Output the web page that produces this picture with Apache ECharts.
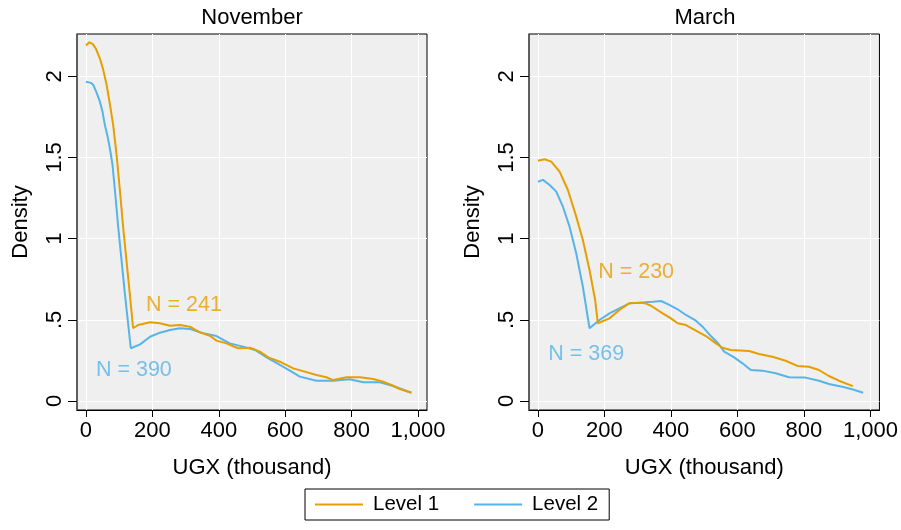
<!DOCTYPE html>
<html>
<head>
<meta charset="utf-8">
<script src="https://cdn.jsdelivr.net/npm/echarts@6/dist/echarts.min.js"></script>
<style>
html,body{margin:0;padding:0;background:#fff;}
#chart{width:901px;height:530px;}
</style>
</head>
<body>
<div id="chart"></div>
<script>
// ---- data ----
const panelTitles = ['November', 'March'];
const seriesNames = ['Level 1', 'Level 2'];
const xTicks = [0, 200, 400, 600, 800, 1000];
const yTicks = [0, 0.5, 1, 1.5, 2];

const novL1x = [0, 10, 20, 30, 42, 52, 62, 72, 82, 92, 103, 112, 132, 142, 157, 193, 223, 253, 283, 313, 343, 373, 393, 423, 458, 494, 524, 549, 584, 624, 659, 694, 724, 744, 785, 825, 865, 895, 925, 945, 980];
const novL1y = [2.19, 2.21, 2.20, 2.17, 2.11, 2.04, 1.95, 1.83, 1.70, 1.52, 1.28, 1.07, 0.66, 0.448, 0.468, 0.485, 0.479, 0.464, 0.468, 0.458, 0.423, 0.402, 0.372, 0.355, 0.325, 0.328, 0.304, 0.269, 0.242, 0.201, 0.181, 0.160, 0.146, 0.129, 0.146, 0.146, 0.136, 0.119, 0.094, 0.074, 0.051];

const novL2x = [0, 6, 15, 22, 32, 42, 50, 57, 65, 72, 80, 88, 97, 117, 135, 163, 193, 223, 253, 283, 313, 323, 353, 393, 433, 473, 509, 544, 584, 614, 644, 694, 744, 794, 835, 885, 925, 980];
const novL2y = [1.967, 1.974, 1.96, 1.947, 1.90, 1.844, 1.78, 1.70, 1.63, 1.557, 1.454, 1.28, 1.074, 0.664, 0.325, 0.349, 0.396, 0.421, 0.437, 0.448, 0.444, 0.437, 0.417, 0.400, 0.355, 0.335, 0.314, 0.269, 0.222, 0.187, 0.150, 0.125, 0.125, 0.134, 0.115, 0.115, 0.092, 0.051];

const marL1x = [0, 20, 40, 65, 90, 115, 135, 155, 172, 180, 215, 245, 275, 305, 325, 340, 375, 400, 420, 445, 475, 505, 535, 555, 580, 635, 665, 705, 745, 780, 815, 845, 875, 905, 947];
const marL1y = [1.48, 1.489, 1.475, 1.413, 1.30, 1.136, 0.992, 0.807, 0.622, 0.479, 0.509, 0.561, 0.602, 0.606, 0.60, 0.587, 0.540, 0.509, 0.479, 0.468, 0.433, 0.400, 0.355, 0.328, 0.314, 0.308, 0.290, 0.273, 0.248, 0.216, 0.211, 0.191, 0.154, 0.125, 0.092];

const marL2x = [0, 15, 35, 55, 75, 95, 115, 135, 155, 185, 215, 245, 275, 305, 345, 370, 395, 420, 445, 475, 495, 520, 540, 560, 590, 615, 640, 675, 715, 755, 805, 845, 875, 915, 945, 978];
const marL2y = [1.351, 1.362, 1.331, 1.29, 1.197, 1.074, 0.910, 0.704, 0.448, 0.499, 0.540, 0.571, 0.602, 0.606, 0.612, 0.616, 0.592, 0.565, 0.530, 0.495, 0.458, 0.400, 0.359, 0.304, 0.269, 0.232, 0.191, 0.187, 0.171, 0.146, 0.144, 0.125, 0.105, 0.088, 0.072, 0.051];

// annotation labels
const annotText = ['N = 241', 'N = 390', 'N = 230', 'N = 369'];
const annotPanel = [0, 0, 1, 1];
const annotSeries = [0, 1, 0, 1];
const annotX = [181, 30, 181, 31];
const annotY = [0.593, 0.191, 0.793, 0.29];

// ---- styling ----
const colors = ['#E69F00', '#56B4E9'];
const FONT = "'Liberation Sans', Arial, sans-serif";
const FS = 22;

function pairs(xs, ys) { return xs.map((x, i) => [x, ys[i]]); }
function fmtX(v) { return v >= 1000 ? String(v).replace(/\B(?=(\d{3})+(?!\d))/g, ',') : String(v); }
function fmtY(v) { if (v === 0) return '0'; const s = String(v); return s.startsWith('0.') ? s.slice(1) : s; }

const grids = [
  { left: 77, top: 34, width: 350, height: 376 },
  { left: 529, top: 34, width: 352, height: 376 }
];

const option = {
  animation: false,
  textStyle: { fontFamily: FONT },
  grid: grids.map(g => Object.assign({
    show: true, backgroundColor: '#EFEFEF', borderColor: '#000', borderWidth: 1
  }, g)),
  xAxis: [0, 1].map(i => ({
    type: 'value', gridIndex: i, min: -27, max: 1027,
    axisLine: { show: true, onZero: false, lineStyle: { color: '#000', width: 1 } },
    axisTick: { show: true, customValues: xTicks, length: 7, lineStyle: { color: '#000' } },
    axisLabel: { customValues: xTicks, formatter: fmtX, fontSize: FS, color: '#000', margin: 10, fontFamily: FONT },
    splitLine: { show: true, lineStyle: { color: '#fff', width: 1 } },
    name: 'UGX (thousand)', nameLocation: 'middle', nameGap: 47,
    nameTextStyle: { fontSize: FS, color: '#000', fontFamily: FONT }
  })),
  yAxis: [0, 1].map(i => ({
    type: 'value', gridIndex: i, min: -0.0555, max: 2.261,
    axisLine: { show: true, onZero: false, lineStyle: { color: '#555', width: 1.5 } },
    axisTick: { show: true, customValues: yTicks, length: 9, lineStyle: { color: '#000' } },
    axisLabel: { customValues: yTicks, formatter: fmtY, rotate: 90, fontSize: FS, color: '#000', margin: 11, fontFamily: FONT },
    splitLine: { show: true, lineStyle: { color: '#fff', width: 1 } },
    name: 'Density', nameLocation: 'middle', nameGap: 45, nameRotate: 90,
    nameTextStyle: { fontSize: FS, color: '#000', fontFamily: FONT }
  })),
  legend: {
    data: seriesNames,
    left: 305, top: 489,
    orient: 'horizontal',
    icon: 'rect', itemWidth: 48, itemHeight: 2, itemGap: 35,
    borderColor: '#000', borderWidth: 1, borderRadius: 0,
    padding: [5, 11, 5, 10],
    textStyle: { fontSize: 20.5, color: '#000', fontFamily: FONT, padding: [0, 0, 0, 5] }
  },
  graphic: panelTitles.map((t, i) => ({
    type: 'text',
    x: grids[i].left + grids[i].width / 2, y: 18,
    style: { text: t, font: FS + 'px ' + FONT, fill: '#000', textAlign: 'center', textVerticalAlign: 'middle' }
  })),
  series: []
};

const lineData = [
  [pairs(novL1x, novL1y), pairs(novL2x, novL2y)],
  [pairs(marL1x, marL1y), pairs(marL2x, marL2y)]
];
[0, 1].forEach(p => {
  [0, 1].forEach(s => {
    option.series.push({
      type: 'line', name: seriesNames[s], xAxisIndex: p, yAxisIndex: p,
      data: lineData[p][s], showSymbol: false, symbol: 'none',
      lineStyle: { color: colors[s], width: 2 }, itemStyle: { color: colors[s] },
      z: s === 0 ? 3 : 2
    });
  });
  const ann = [];
  annotText.forEach((t, k) => {
    if (annotPanel[k] === p) ann.push({
      value: [annotX[k], annotY[k]], name: t,
      label: { color: colors[annotSeries[k]] }
    });
  });
  option.series.push({
    type: 'scatter', name: 'annot', xAxisIndex: p, yAxisIndex: p,
    data: ann, symbolSize: 0, silent: true,
    label: { show: true, position: 'right', distance: 0, formatter: d => d.name, fontSize: 21.5, fontFamily: FONT }
  });
});

const chart = echarts.init(document.getElementById('chart'), null, { renderer: 'canvas' });
chart.setOption(option);
</script>
</body>
</html>
